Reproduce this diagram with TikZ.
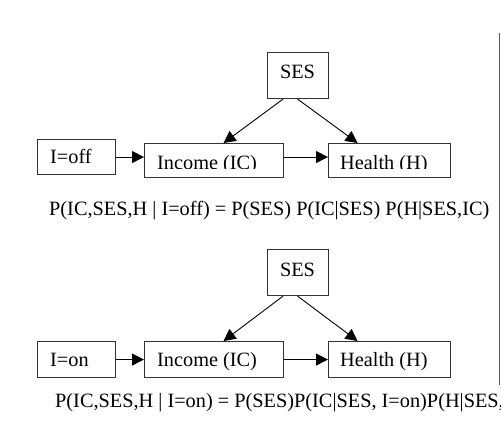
\documentclass[tikz,border=0pt]{standalone}
\usepackage{fontspec}
\setmainfont{Liberation Serif}
\usetikzlibrary{arrows.meta}
\tikzset{
  box/.style={draw=black!80, line width=1.1pt, inner sep=0pt, anchor=north west},
  lbl/.style={inner sep=0pt, anchor=base west, font=\fontsize{20.3}{24}\selectfont},
  arr/.style={line width=0.9pt, -{Triangle[length=12pt,width=12pt]}},
}
\begin{document}
\begin{tikzpicture}[x=1pt,y=-1pt]
\useasboundingbox (0,0) rectangle (501,428);
\clip (0,0) rectangle (501,428);
% ---------- top diagram ----------
\node[box, minimum width=61pt, minimum height=46pt] (ses1) at (267,52) {};
\node[box, minimum width=78pt, minimum height=35pt] (ioff) at (37,139) {};
\node[box, minimum width=139pt, minimum height=34pt] (inc1) at (144,143) {};
\node[box, minimum width=122pt, minimum height=34pt] (hl1) at (328,143) {};
\node[lbl, anchor=base] (tses1) at (297.5,78) {SES};
\node[lbl] (toff) at (50,163.5) {I=off};
\begin{scope}
\clip (0,0) rectangle (501,168);
\node[lbl] (tinc1) at (157,169.5) {Income (IC)};
\node[lbl] (thl1) at (340,169.5) {Health (H)};
\end{scope}
\draw[arr] (ioff.east) -- (ioff.east -| inc1.west);
\draw[arr] (inc1.east |- ioff.east) -- (hl1.west |- ioff.east);
\draw[arr] ([xshift=-15pt]ses1.south) -- ([xshift=9.5pt]inc1.north);
\draw[arr] ([xshift=-0.5pt]ses1.south) -- ([xshift=-32pt]hl1.north);
\node[lbl] (f1) at (49,215) {P(IC,SES,H | I=off) = P(SES) P(IC|SES) P(H|SES,IC)};
% ---------- bottom diagram ----------
\node[box, minimum width=61pt, minimum height=46pt] (ses2) at (267,249) {};
\node[box, minimum width=78pt, minimum height=36pt] (ion) at (37,341) {};
\node[box, minimum width=139pt, minimum height=36pt] (inc2) at (144,341) {};
\node[box, minimum width=122pt, minimum height=36pt] (hl2) at (328,341) {};
\node[lbl, anchor=base] (tses2) at (297.5,276) {SES};
\node[lbl] (ton) at (50,366) {I=on};
\node[lbl] (tinc2) at (157,366) {Income (IC)};
\node[lbl] (thl2) at (340,366) {Health (H)};
\draw[arr] (ion.east) -- (ion.east -| inc2.west);
\draw[arr] (inc2.east) -- (hl2.west);
\draw[arr] ([xshift=-15pt]ses2.south) -- ([xshift=9.5pt]inc2.north);
\draw[arr] ([xshift=-0.5pt]ses2.south) -- ([xshift=-32pt]hl2.north);
\node[lbl] (f2) at (55,407) {P(IC,SES,H | I=on) = P(SES)P(IC|SES, I=on)P(H|SES, IC)};
% ---------- right rule ----------
\coordinate (vtop) at (499.5,33);
\coordinate (vbot) at (499.5,385);
\draw[black!65, line width=1.4pt] (vtop) -- (vbot);
\end{tikzpicture}
\end{document}
